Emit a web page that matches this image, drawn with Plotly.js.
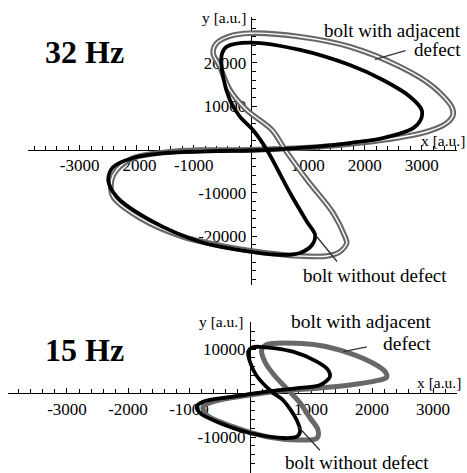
<!DOCTYPE html>
<html>
<head>
<meta charset="utf-8">
<script src="https://cdn.plot.ly/plotly-3.0.1.min.js"></script>
<style>
  html, body { margin: 0; padding: 0; background: #fff; }
  #chart { width: 467px; height: 473px; }
</style>
</head>
<body>
<div id="chart"></div>
<script>
// Orbit loops (x, y in a.u.) of a bolt, excited at 32 Hz and at 15 Hz.
// Each loop is listed once round and closed on its first point.

// 32 Hz, bolt without defect
const hz32NoDefectX = [-10, 865, 1740, 2320, 2795, 3000, 2980, 2850, 2320, 1740, 1160, 570, -10, -590, -1470, -2065, -2415, -2500, -2350, -1765, -890, -10, 565, 865, 1075, 1130, 990, 690, 285, 40, -190, -365, -485, -510, -420, -10];
const hz32NoDefectY = [24700, 23000, 19500, 16050, 12200, 9100, 6800, 4950, 2650, 1500, 650, 120, -230, -350, -800, -1950, -4050, -7050, -10900, -16300, -21300, -23600, -24350, -23900, -22050, -19750, -16750, -10050, -120, 4500, 7580, 11430, 16800, 21800, 23750, 24700];

// 32 Hz, bolt with adjacent defect
const hz32DefectX = [-10, 865, 1740, 2620, 3200, 3525, 3550, 3440, 3090, 2320, 1445, 865, -10, -890, -1470, -2065, -2350, -2440, -2415, -1940, -1190, -310, 280, 865, 1335, 1565, 1685, 1655, 1445, 990, 600, 375, -70, -365, -540, -660, -595, -365, -10];
const hz32DefectY = [26850, 26050, 23740, 19120, 14500, 9880, 7970, 6120, 4110, 2190, 880, 350, -80, -150, -600, -2000, -4730, -7050, -10900, -15820, -20140, -22750, -23900, -24600, -24600, -23600, -21600, -20140, -14670, -7050, 0, 4500, 9120, 13740, 19120, 22290, 24600, 26200, 26850];

// 15 Hz, bolt without defect
const hz15NoDefectX = [165, 705, 1095, 1280, 1310, 1150, 820, 275, -280, -770, -875, -820, -545, 0, 540, 765, 820, 765, 540, 360, 100, 0, -30, 35, 165];
const hz15NoDefectY = [10500, 9390, 7110, 5230, 3700, 1820, 1140, 300, -840, -1980, -3110, -4550, -6520, -9090, -10230, -9930, -8800, -6140, -1590, 230, 4090, 7050, 9390, 10340, 10500];

// 15 Hz, bolt with adjacent defect
const hz15DefectX = [440, 1095, 1640, 2020, 2215, 2240, 2075, 1640, 1095, 540, 0, -605, -770, -710, -280, 275, 820, 1095, 1115, 985, 820, 625, 395, 245, 190, 260, 440];
const hz15DefectY = [11300, 10900, 9020, 6750, 4840, 3570, 2800, 1820, 1070, 520, -450, -1980, -3110, -5000, -7660, -9930, -10680, -10300, -8410, -5680, -2270, 680, 4090, 7050, 9770, 10910, 11300];

// Axis ticks and their labels (the origin is left unlabelled)
const xTickVals = [-3000, -2000, -1000, 0, 1000, 2000, 3000];
const xTickText = ['-3000', '-2000', '-1000', '', '1000', '2000', '3000'];
const yTickVals32 = [-20000, -10000, 0, 10000, 20000];
const yTickText32 = ['-20000', '-10000', '', '10000', '20000'];
const yTickVals15 = [-10000, 0, 10000];
const yTickText15 = ['-10000', '', '10000'];

const SERIF = 'Liberation Serif, Times New Roman, serif';
const GREY = '#686868';
const W = 467, H = 473;

// Panel frames: axis ranges and their domains
const panel32 = {
  xr: [-3907, 3619], yr: [-31290, 30600],
  xd: [28 / W, 457 / W], yd: [1 - 285 / H, 1 - 17 / H]
};
const panel15 = {
  xr: [-3967, 3393], yr: [-18182, 16136],
  xd: [8 / W, 457 / W], yd: [0, 1 - 322 / H]
};

// paper position of the value 0 inside a domain
function zeroPos(range, domain) {
  return domain[0] + (0 - range[0]) / (range[1] - range[0]) * (domain[1] - domain[0]);
}

function xAxis(p, vals, text) {
  return {
    domain: p.xd, range: p.xr, anchor: 'free', position: zeroPos(p.yr, p.yd),
    side: 'bottom', showgrid: false, zeroline: false,
    showline: true, linecolor: '#000', linewidth: 1.2,
    tickmode: 'array', tickvals: vals, ticktext: text,
    ticks: 'inside', ticklen: 5, tickwidth: 1, tickcolor: '#000',
    minor: { tickmode: 'linear', tick0: 0, dtick: 200, ticks: 'inside', ticklen: 3.5, tickwidth: 1, tickcolor: '#000' },
    tickfont: { family: SERIF, size: 17, color: '#000' },
    layer: 'below traces', fixedrange: true
  };
}
function yAxis(p, vals, text) {
  return {
    domain: p.yd, range: p.yr, anchor: 'free', position: zeroPos(p.xr, p.xd),
    side: 'left', showgrid: false, zeroline: false,
    showline: true, linecolor: '#000', linewidth: 1.2,
    tickmode: 'array', tickvals: vals, ticktext: text,
    ticks: 'inside', ticklen: 5, tickwidth: 1, tickcolor: '#000',
    minor: { tickmode: 'linear', tick0: 0, dtick: 2000, ticks: 'inside', ticklen: 4, tickwidth: 1, tickcolor: '#000' },
    tickfont: { family: SERIF, size: 17, color: '#000' },
    ticklabelstandoff: 1,
    layer: 'below traces', fixedrange: true
  };
}

function loop(x, y, xa, ya, color, width) {
  return {
    type: 'scatter', mode: 'lines', x: x, y: y, xaxis: xa, yaxis: ya,
    line: { color: color, width: width, shape: 'spline', smoothing: 0.9 },
    hoverinfo: 'skip', showlegend: false
  };
}

// the 32 Hz defect orbit is a doubled trace: wide grey with a thin light core
const traces = [
  loop(hz32DefectX, hz32DefectY, 'x', 'y', GREY, 5.6),
  loop(hz32DefectX, hz32DefectY, 'x', 'y', '#ffffff', 1.4),
  loop(hz32NoDefectX, hz32NoDefectY, 'x', 'y', '#000000', 3.8),
  loop(hz15DefectX, hz15DefectY, 'x2', 'y2', GREY, 5),
  loop(hz15NoDefectX, hz15NoDefectY, 'x2', 'y2', '#000000', 3.8)
];

// text placed in pixel terms of the 467 x 473 page
function label(text, px, py, xanchor, size, bold) {
  return {
    xref: 'paper', yref: 'paper', x: px / W, y: 1 - py / H,
    xanchor: xanchor, yanchor: 'middle', showarrow: false,
    text: bold ? '<b>' + text + '</b>' : text,
    font: { family: SERIF, size: size, color: '#000' }
  };
}
function leader(xa, ya, x, y, ax, ay) {
  return {
    xref: xa, yref: ya, x: x, y: y, text: '', showarrow: true,
    arrowhead: 0, arrowwidth: 1.3, arrowcolor: '#333', ax: ax, ay: ay, standoff: 0
  };
}

const annotations = [
  // 32 Hz panel
  label('32 Hz', 43, 52, 'left', 32, true),
  label('y [a.u.]', 248, 18, 'right', 15.5),
  label('x [a.u.]', 467, 140, 'right', 15.5),
  label('bolt with adjacent', 463, 30, 'right', 19),
  label('defect', 463, 50, 'right', 19),
  label('bolt without defect', 301, 275, 'left', 19),
  leader('x', 'y', 2181, 20830, 32, -9),
  leader('x', 'y', 1150, -19980, 22, 27),
  // 15 Hz panel
  label('15 Hz', 43, 350, 'left', 32, true),
  label('y [a.u.]', 245, 321, 'right', 15.5),
  label('x [a.u.]', 463, 382, 'right', 15.5),
  label('bolt with adjacent', 433, 321, 'right', 19.5),
  label('defect', 433, 343, 'right', 19.5),
  label('bolt without defect', 283, 462, 'left', 19),
  leader('x2', 'y2', 1530, 9390, 25, -5),
  leader('x2', 'y2', 792, -7660, 23, 25)
];

const layout = {
  width: W, height: H,
  margin: { l: 0, r: 0, t: 0, b: 0, pad: 0 },
  paper_bgcolor: '#ffffff', plot_bgcolor: 'rgba(0,0,0,0)',
  showlegend: false,
  xaxis: xAxis(panel32, xTickVals, xTickText),
  yaxis: yAxis(panel32, yTickVals32, yTickText32),
  xaxis2: xAxis(panel15, xTickVals, xTickText),
  yaxis2: yAxis(panel15, yTickVals15, yTickText15),
  annotations: annotations
};

Plotly.newPlot('chart', traces, layout, { staticPlot: true, displayModeBar: false });
</script>
</body>
</html>
